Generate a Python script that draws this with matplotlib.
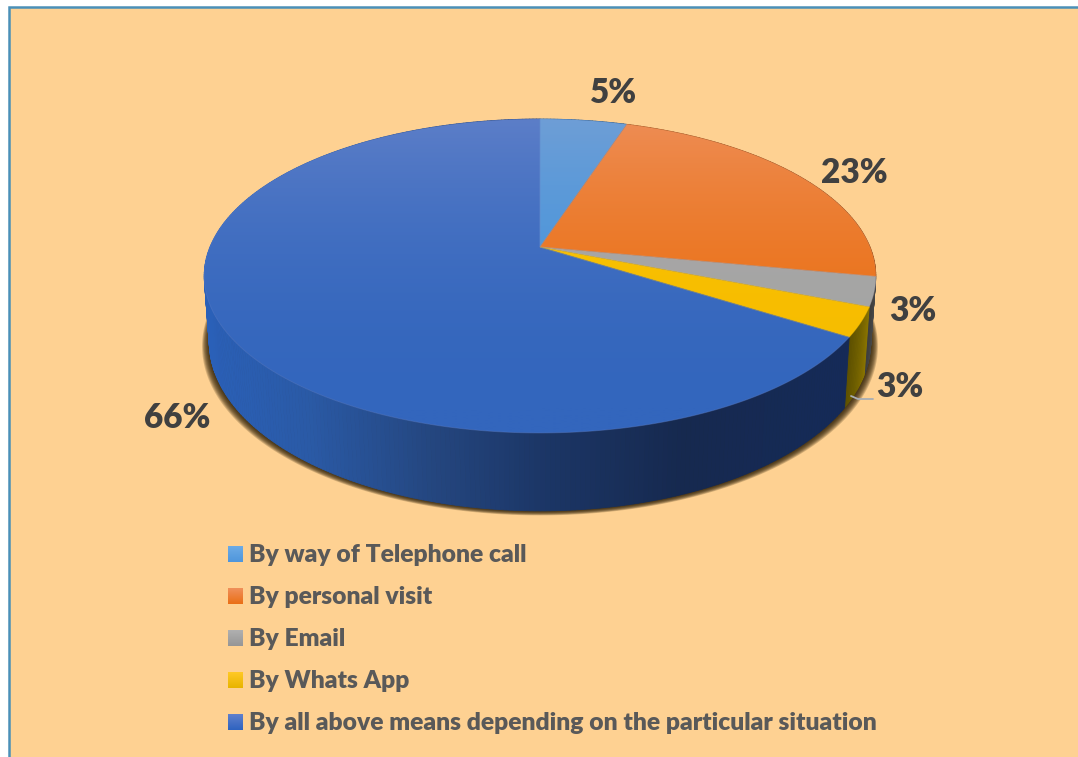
import numpy as np
from matplotlib import pyplot as plt
from matplotlib.collections import PolyCollection
from matplotlib.colors import LinearSegmentedColormap, to_rgb
from matplotlib.patches import Polygon, Rectangle

categories = ['By way of Telephone call', 'By personal visit', 'By Email',
              'By Whats App', 'By all above means depending on the particular situation']
values = [5, 23, 3, 3, 66]
labels = ['5%', '23%', '3%', '3%', '66%']

# top face colours: (far edge, near edge)
top_colors = [('#6e9ed6', '#4494dc'), ('#ee8d55', '#ea7014'), ('#b0a8ac', '#a3a5a3'),
              ('#ffc800', '#f6bc00'), ('#5c7ec8', '#3366bd')]
# side wall colours: (left of the wall, right of the wall)
side_colors = [('#2a5a90', '#1d4470'), ('#8a4a18', '#7a3f10'), ('#4e4e4e', '#3e3e3e'),
               ('#8a7400', '#5f5200'), ('#2b60ba', '#122a58')]
swatch_colors = [('#6cabe6', '#4f96dc'), ('#f0905a', '#ea6f16'), ('#b0b0b0', '#969696'),
                 ('#ffc926', '#e8b400'), ('#5f80cc', '#2f63c0')]
label_pos = [(614, 93), (854, 173), (913, 311), (900, 387), (177, 418)]

plt.rcParams['font.family'] = ['Lato', 'DejaVu Sans']

cx, cy = 540, 247
a, b, k = 330, 151.6, 0.1847
depth = 63.5
shrink = 0.985


def project(theta):
    # theta runs clockwise from twelve o'clock, far side of the disc is smaller
    u, v = np.sin(theta), np.cos(theta)
    den = 1 + k * v
    return cx + a * u / den, cy - b * v / den


def project_low(theta):
    x, y = project(theta)
    return cx + (x - cx) * shrink, y + depth / (1 + k * np.cos(theta))


def ramp(c0, c1):
    return LinearSegmentedColormap.from_list('r', [to_rgb(c0), to_rgb(c1)])


fig = plt.figure(figsize=(10.78, 7.57), dpi=100)
ax = fig.add_axes([0, 0, 1, 1])
ax.axis('off')

ax.add_patch(Rectangle((9, 7), 1300, 1000, facecolor='#fed192', edgecolor='#4a90b8',
                       linewidth=1.8, zorder=0.5))

edges = np.radians(np.cumsum([0] + values) * 3.6)

# soft shadow hugging the lower edge of the wall
t = np.linspace(0, 2 * np.pi, 361)
lx, ly = project_low(t)
for g in np.arange(6.5, 0, -0.75):
    ax.fill(cx + (lx - cx) * (1 + g / 300), ly + g * 0.7, color='#2e2006', alpha=0.2, lw=0, zorder=1)

# side wall, drawn as thin strips shaded by their position along x
for i in range(len(values)):
    n = max(int(values[i] * 5), 6)
    th = np.linspace(edges[i], edges[i + 1], n + 1)
    x0, y0 = project(th)
    x1, y1 = project_low(th)
    quads = [[(x0[j], y0[j]), (x0[j + 1], y0[j + 1]), (x1[j + 1], y1[j + 1]), (x1[j], y1[j])]
             for j in range(n)]
    cmap = ramp(*side_colors[i])
    if i == 4:
        cmap = LinearSegmentedColormap.from_list('wall', [
            (0.0, '#2a60b8'), (0.16, '#2a5aa6'), (0.36, '#24467f'), (0.52, '#1c3768'),
            (0.75, '#16294f'), (1.0, '#152a58')])
        pos = (x0[:-1] - 205) / 640
    else:
        pos = np.linspace(0, 1, n)
    ax.add_collection(PolyCollection(quads, facecolors=cmap(np.clip(pos, 0, 1)),
                                     edgecolors=cmap(np.clip(pos, 0, 1)), linewidths=0.6, zorder=2))

# top faces with a vertical gradient over the whole disc
for i in range(len(values)):
    th = np.linspace(edges[i], edges[i + 1], max(int(values[i] * 6), 8))
    x, y = project(th)
    pts = np.column_stack([np.r_[cx, x], np.r_[cy, y]])
    poly = Polygon(pts, closed=True, facecolor='none', edgecolor='none', transform=ax.transData)
    ax.add_patch(poly)
    grad = np.linspace(0, 1, 256)[:, None]
    shade = 1 - (1 - grad) ** 2.2
    im = ax.imshow(shade, cmap=ramp(*top_colors[i]), vmin=0, vmax=1, aspect='auto',
                   extent=(190, 890, 433, 119), interpolation='bilinear', zorder=3)
    im.set_clip_path(poly)
    ax.fill(pts[:, 0], pts[:, 1], facecolor='none', edgecolor=top_colors[i][0], lw=0.7,
            alpha=0.4, zorder=3.5)

for (x, y), txt in zip(label_pos, labels):
    ax.text(x, y, txt, fontsize=24, fontweight='heavy', color='#404040', ha='center', va='center', zorder=5)

# leader line for the lower 3% label
ax.plot([851, 858, 873], [396, 399, 399], color='#a8aeb4', lw=1.3, solid_capstyle='round', zorder=4)

for i, name in enumerate(categories):
    y = 554 + 42 * i
    ax.imshow(np.linspace(0, 1, 32)[:, None], cmap=ramp(*swatch_colors[i]), vmin=0, vmax=1,
              aspect='auto', extent=(228, 243, y + 8, y - 8), zorder=3)
    ax.text(249, y + 1, name, fontsize=17.7, fontweight='heavy', color='#595959', ha='left', va='center', zorder=5)

ax.set_xlim(0, 1078)
ax.set_ylim(757, 0)
fig.savefig('out.png', dpi=100, facecolor='white')
